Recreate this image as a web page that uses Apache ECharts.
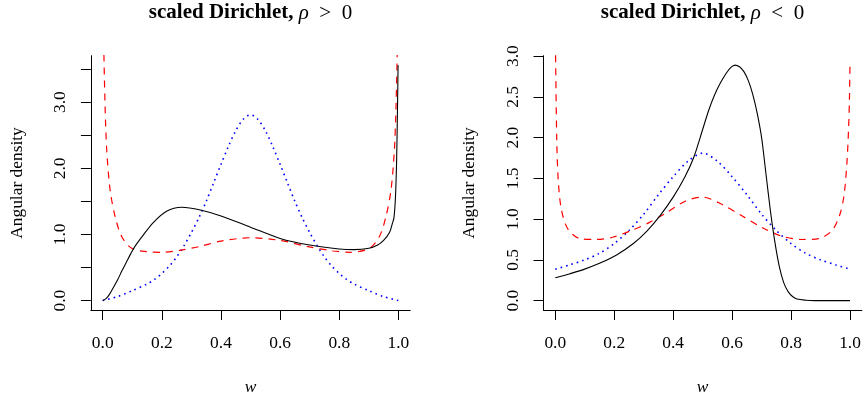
<!DOCTYPE html>
<html>
<head>
<meta charset="utf-8">
<script src="https://cdn.jsdelivr.net/npm/echarts@6/dist/echarts.min.js"></script>
<style>html,body{margin:0;padding:0;background:#fff;}#c{width:864px;height:398px;}</style>
</head>
<body>
<div id="c"></div>
<script>
// ---------- data ----------
const xTicks = [0, 0.2, 0.4, 0.6, 0.8, 1.0];
const leftYTicks = [0, 0.5, 1, 1.5, 2, 2.5, 3, 3.5];
const leftYLabels = [0, 1, 2, 3];
const rightYTicks = [0, 0.5, 1, 1.5, 2, 2.5, 3];
const rightYLabels = [0, 0.5, 1, 1.5, 2, 2.5, 3];

// left panel (rho > 0)
const lBlackW = [0, 0.01, 0.02, 0.035, 0.05, 0.065, 0.08, 0.095, 0.109, 0.137, 0.171, 0.216, 0.267, 0.33, 0.4, 0.5, 0.6, 0.7, 0.8, 0.85, 0.9, 0.93, 0.95, 0.97, 0.98, 0.985, 0.99, 0.994, 0.997, 0.999];
const lBlackV = [0, 0.025, 0.075, 0.19, 0.31, 0.45, 0.58, 0.71, 0.82, 0.99, 1.18, 1.35, 1.41, 1.37, 1.28, 1.11, 0.94, 0.84, 0.78, 0.77, 0.79, 0.84, 0.91, 1.03, 1.17, 1.25, 1.55, 2.1, 2.9, 3.56];
const lRedW = [0.004, 0.008, 0.0135, 0.025, 0.042, 0.064, 0.098, 0.149, 0.205, 0.261, 0.33, 0.4, 0.5, 0.6, 0.69, 0.78, 0.836, 0.902, 0.936, 0.958, 0.975, 0.9865, 0.992, 0.996];
const lRedV = [3.72, 2.93, 2.28, 1.67, 1.27, 0.97, 0.79, 0.74, 0.73, 0.76, 0.82, 0.9, 0.95, 0.91, 0.82, 0.75, 0.73, 0.79, 0.97, 1.27, 1.67, 2.28, 2.93, 3.72];
const lBlueW = [0, 0.05, 0.1, 0.15, 0.175, 0.2, 0.225, 0.25, 0.275, 0.3, 0.325, 0.35, 0.375, 0.4, 0.425, 0.45, 0.475, 0.5, 0.525, 0.55, 0.575, 0.6, 0.625, 0.65, 0.675, 0.7, 0.725, 0.75, 0.775, 0.8, 0.825, 0.85, 0.9, 0.95, 1];
const lBlueV = [0, 0.06, 0.15, 0.25, 0.32, 0.41, 0.52, 0.66, 0.83, 1.03, 1.25, 1.5, 1.78, 2.06, 2.33, 2.57, 2.74, 2.81, 2.74, 2.57, 2.33, 2.06, 1.78, 1.5, 1.25, 1.03, 0.83, 0.66, 0.52, 0.41, 0.32, 0.25, 0.15, 0.06, 0];

// right panel (rho < 0)
const rBlackW = [0, 0.05, 0.095, 0.152, 0.208, 0.265, 0.31, 0.355, 0.4, 0.44, 0.47, 0.5, 0.52, 0.54, 0.56, 0.58, 0.595, 0.61, 0.625, 0.64, 0.655, 0.67, 0.685, 0.7, 0.715, 0.73, 0.745, 0.76, 0.775, 0.79, 0.805, 0.82, 0.85, 0.88, 1.0];
const rBlackV = [0.28, 0.33, 0.38, 0.46, 0.56, 0.7, 0.85, 1.04, 1.27, 1.52, 1.76, 2.1, 2.33, 2.52, 2.67, 2.79, 2.86, 2.89, 2.87, 2.81, 2.7, 2.53, 2.3, 2.0, 1.55, 1.1, 0.72, 0.42, 0.22, 0.11, 0.05, 0.02, 0.005, 0, 0];
const rRedW = [0.001, 0.005, 0.01, 0.021, 0.044, 0.084, 0.14, 0.197, 0.265, 0.32, 0.373, 0.441, 0.5, 0.566, 0.633, 0.7, 0.769, 0.837, 0.894, 0.939, 0.965, 0.98, 0.99, 0.995, 0.998, 1.0];
const rRedV = [3.01, 1.97, 1.48, 1.11, 0.87, 0.76, 0.75, 0.78, 0.87, 0.96, 1.07, 1.22, 1.27, 1.18, 1.04, 0.9, 0.79, 0.75, 0.76, 0.86, 1.05, 1.3, 1.72, 2.1, 2.46, 2.93];
const rBlueW = [0, 0.05, 0.1, 0.15, 0.2, 0.25, 0.3, 0.35, 0.4, 0.45, 0.5, 0.55, 0.6, 0.65, 0.7, 0.75, 0.8, 0.85, 0.9, 0.95, 1.0];
const rBlueV = [0.385, 0.44, 0.5, 0.58, 0.7, 0.86, 1.06, 1.3, 1.52, 1.71, 1.81, 1.71, 1.52, 1.3, 1.06, 0.86, 0.7, 0.58, 0.5, 0.44, 0.385];

// ---------- chart ----------
const zip = (a, b) => a.map((x, i) => [x, b[i]]);
const FONT = 'Liberation Serif';
const LBL = 17.4;

function xAxisOf(g) {
  return {
    type: 'value', gridIndex: g, min: -0.04, max: 1.04,
    axisLine: { show: true, onZero: false, lineStyle: { color: '#000', width: 1 } },
    axisTick: { show: true, length: 10, customValues: xTicks, lineStyle: { color: '#000', width: 1 } },
    axisLabel: { customValues: xTicks, margin: 25, color: '#000', fontFamily: FONT, fontSize: LBL,
      formatter: v => v.toFixed(1) },
    splitLine: { show: false }
  };
}
function yAxisOf(g, mn, mx, ticks, labels) {
  return {
    type: 'value', gridIndex: g, min: mn, max: mx,
    axisLine: { show: true, onZero: false, lineStyle: { color: '#000', width: 1 } },
    axisTick: { show: true, length: 10, customValues: ticks, lineStyle: { color: '#000', width: 1 } },
    axisLabel: { customValues: labels, margin: 22, rotate: 90, color: '#000', fontFamily: FONT, fontSize: LBL,
      formatter: v => v.toFixed(1) },
    splitLine: { show: false }
  };
}
function line(g, data, color, type, width) {
  return {
    type: 'line', xAxisIndex: g, yAxisIndex: g, data: data, showSymbol: false, smooth: 0.3,
    clip: true, silent: true, animation: false,
    lineStyle: { color: color, type: type, width: width, cap: 'butt' }
  };
}

const chart = echarts.init(document.getElementById('c'), null, { renderer: 'canvas' });
const titleRich = {
  b: { fontFamily: FONT, fontWeight: 'bold', fontSize: 21, fill: '#000' },
  i: { fontFamily: FONT, fontStyle: 'italic', fontSize: 21, fill: '#000' },
  n: { fontFamily: FONT, fontSize: 21, fill: '#000' }
};
function titleText(x, rel) {
  return { type: 'text', x: x, y: 13, style: {
    text: '{b|scaled Dirichlet, }{i|\u03c1}{n|\u2002' + rel + '\u20020}',
    rich: titleRich, align: 'center', verticalAlign: 'middle', textAlign: 'center', textVerticalAlign: 'middle' } };
}
function textEl(x, y, txt, rot, italic) {
  return { type: 'text', x: x, y: y, rotation: rot, style: {
    text: txt, fontFamily: FONT, fontSize: LBL, fontStyle: italic ? 'italic' : 'normal', fill: '#000',
    textAlign: 'center', textVerticalAlign: 'middle', align: 'center', verticalAlign: 'middle' } };
}

chart.setOption({
  animation: false,
  backgroundColor: '#fff',
  grid: [
    { left: 90.9, top: 55.7, width: 319.3, height: 254.3 },
    { left: 543.5, top: 55.7, width: 318.3, height: 254.3 }
  ],
  xAxis: [xAxisOf(0), xAxisOf(1)],
  yAxis: [
    yAxisOf(0, -0.1424, 3.7024, leftYTicks, leftYLabels),
    yAxisOf(1, -0.1156, 3.0056, rightYTicks, rightYLabels)
  ],
  graphic: [
    titleText(250.5, '>'),
    titleText(702.5, '<'),
    textEl(17.5, 183, 'Angular density', Math.PI / 2, false),
    textEl(469.5, 183, 'Angular density', Math.PI / 2, false),
    textEl(250.5, 387, 'w', 0, true),
    textEl(702.5, 387, 'w', 0, true)
  ],
  series: [
    line(0, zip(lBlueW, lBlueV), '#0000ff', [1.6, 4], 1.6),
    line(0, zip(lRedW, lRedV), '#ff0000', [7, 6], 1.2),
    line(0, zip(lBlackW, lBlackV), '#000000', 'solid', 1.1),
    line(1, zip(rBlueW, rBlueV), '#0000ff', [1.6, 4], 1.6),
    line(1, zip(rRedW, rRedV), '#ff0000', [7, 6], 1.2),
    line(1, zip(rBlackW, rBlackV), '#000000', 'solid', 1.1)
  ]
});
</script>
</body>
</html>
